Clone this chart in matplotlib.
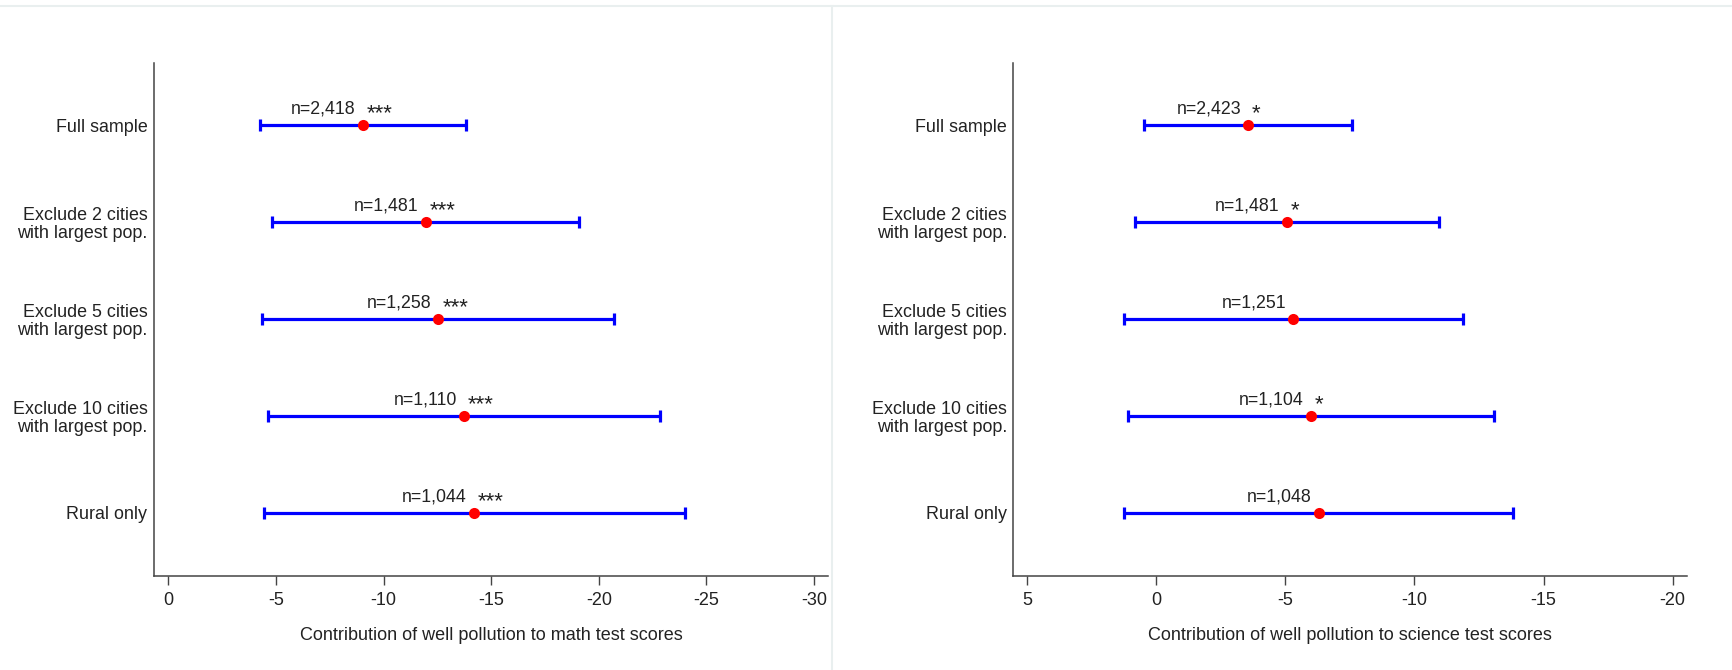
"""Coefficient plots: well pollution vs. math / science test scores."""
import matplotlib

matplotlib.use("Agg")
import matplotlib.pyplot as plt
from matplotlib.lines import Line2D
import numpy as np

plt.rcParams["font.family"] = ["Liberation Sans", "DejaVu Sans"]

rows = ["Full sample",
        "Exclude 2 cities\nwith largest pop.",
        "Exclude 5 cities\nwith largest pop.",
        "Exclude 10 cities\nwith largest pop.",
        "Rural only"]

# math panel
math_est = [-9.03, -11.95, -12.54, -13.73, -14.20]
math_lo = [-4.26, -4.83, -4.37, -4.64, -4.46]
math_hi = [-13.81, -19.09, -20.69, -22.86, -23.99]
math_n = [2418, 1481, 1258, 1110, 1044]
math_stars = ["***", "***", "***", "***", "***"]
math_ticks = [0, -5, -10, -15, -20, -25, -30]

# science panel
sci_est = [-3.55, -5.05, -5.31, -5.99, -6.30]
sci_lo = [0.46, 0.82, 1.25, 1.11, 1.25]
sci_hi = [-7.59, -10.95, -11.89, -13.10, -13.83]
sci_n = [2423, 1481, 1251, 1104, 1048]
sci_stars = ["*", "*", "", "*", ""]
sci_ticks = [5, 0, -5, -10, -15, -20]

W, H, DPI = 1732, 670, 100
TXT = "#222222"
SPINE = "#444444"
PX = 72 / DPI  # points per pixel


def panel(ax, est, lo, hi, ns, stars, ticks, xlim, xlabel):
    y = np.arange(1, len(est) + 1)
    est = np.asarray(est)
    lo = np.asarray(lo)
    hi = np.asarray(hi)
    ax.errorbar(est, y, xerr=[est - hi, lo - est], fmt="none", ecolor="#0000ff",
                elinewidth=2.3, capsize=4.5, capthick=2.3, zorder=2)
    ax.plot(est, y, "o", color="#ff0000", ms=8, mec="none", zorder=3)
    for xi, yi, n, s in zip(est, y, ns, stars):
        ax.annotate(f"n={n:,}", (xi, yi), xytext=(-7 * PX, 11.5 * PX),
                    textcoords="offset points", ha="right", va="baseline",
                    fontsize=12.8, color=TXT)
        if s:
            ax.annotate(s, (xi, yi), xytext=(4 * PX, 5.6 * PX),
                        textcoords="offset points", ha="left", va="baseline",
                        fontsize=16, color=TXT)
    ax.set_yticks(y)
    ax.set_yticklabels(rows, fontsize=12.9, color=TXT, linespacing=1.05)
    ax.set_ylim(5.65, 0.36)
    ax.set_xlim(*xlim)
    ax.set_xticks(ticks)
    ax.set_xticklabels([str(t) for t in ticks], fontsize=13, color=TXT)
    ax.tick_params(axis="y", length=0, pad=4.5)
    ax.tick_params(axis="x", length=6.5, width=1, color=SPINE, pad=5)
    for side in ("top", "right"):
        ax.spines[side].set_visible(False)
    for side in ("left", "bottom"):
        ax.spines[side].set_color(SPINE)
        ax.spines[side].set_linewidth(1.1)
    ax.set_xlabel(xlabel, fontsize=13, color=TXT)
    ax.xaxis.set_label_coords(0.5, -0.1)


fig = plt.figure(figsize=(W / DPI, H / DPI), dpi=DPI)
top, bot = 1 - 63 / H, 1 - 576 / H
ax1 = fig.add_axes([153.7 / W, bot, (828.3 - 153.7) / W, top - bot])
ax2 = fig.add_axes([1013.3 / W, bot, (1687.3 - 1013.3) / W, top - bot])

panel(ax1, math_est, math_lo, math_hi, math_n, math_stars, math_ticks,
      (0.68, -30.66), "Contribution of well pollution to math test scores")
panel(ax2, sci_est, sci_lo, sci_hi, sci_n, sci_stars, sci_ticks,
      (5.54, -20.57), "Contribution of well pollution to science test scores")

# faint frame left over from the two stitched images
fig.add_artist(Line2D([0, 1], [1 - 6 / H] * 2, transform=fig.transFigure,
                      color="#e9efef", lw=1.5))
fig.add_artist(Line2D([832 / W] * 2, [0, 1 - 6 / H], transform=fig.transFigure,
                      color="#e9efef", lw=1.5))

fig.savefig("out.png", dpi=DPI)
plt.close(fig)
